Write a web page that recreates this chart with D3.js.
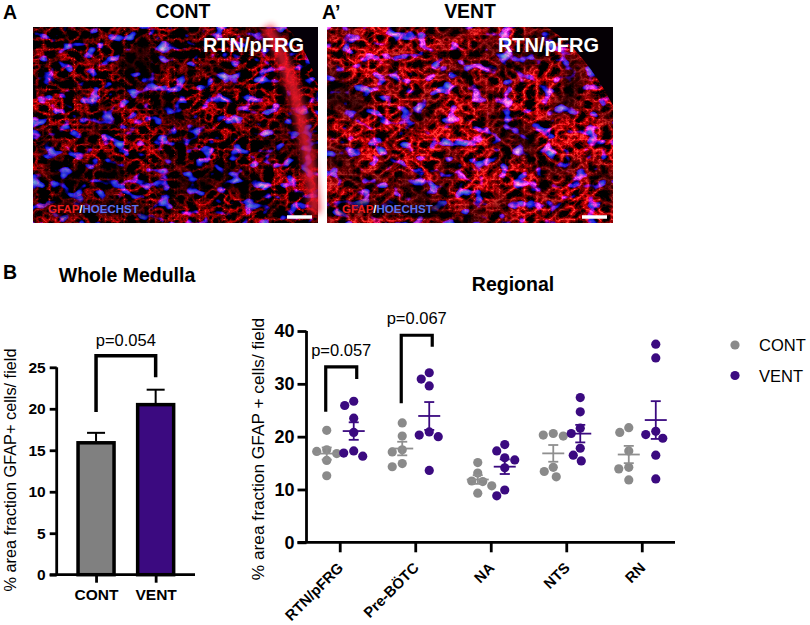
<!DOCTYPE html>
<html><head><meta charset="utf-8">
<script src="https://cdn.jsdelivr.net/npm/d3@7"></script>
<style>
html,body{margin:0;padding:0;background:#fff;}
svg{display:block;font-family:"Liberation Sans",Arial,sans-serif;}
</style></head>
<body><svg id="fig" width="810" height="625"></svg>
<script>
// ---------------- data ----------------
const wholeGroups = ["CONT", "VENT"];
const wholeMeans = [15.9, 20.5];
const wholeSEM = [1.2, 1.8];
const wholeTicks = [0, 5, 10, 15, 20, 25];
const wholeP = "p=0.054";
const wholeBracket = [26.4, 19.6, 23.8]; // top, left leg end, right leg end (data units)

const regions = ["RTN/pFRG", "Pre-BÖTC", "NA", "NTS", "RN"];
const contValues = [
  [21.2, 17.5, 17.2, 16.8, 15.5, 12.6],
  [22.6, 20.1, 17.5, 17.1, 14.9, 14.3],
  [15.1, 13.1, 11.6, 11.5, 10.7, 9.3],
  [20.6, 20.3, 20.1, 14.2, 13.4, 12.4],
  [21.7, 20.8, 17.3, 14.2, 13.9, 11.8]
];
const ventValues = [
  [26.7, 25.9, 23.5, 20.8, 17.3, 16.9, 16.3],
  [32.1, 30.9, 29.6, 20.9, 20.3, 20.0, 13.6],
  [18.5, 17.3, 16.0, 15.6, 14.1, 9.9, 8.8],
  [27.4, 24.7, 21.6, 20.6, 17.8, 16.5, 15.4],
  [37.5, 34.9, 21.0, 20.4, 19.7, 16.5, 12.0]
];
const regionalTicks = [0, 10, 20, 30, 40];
const regionalP = [
  {region: "RTN/pFRG", label: "p=0.057", top: 33.2, left: 24.7, right: 30.9},
  {region: "Pre-BÖTC", label: "p=0.067", top: 39.2, left: 26.3, right: 37.0}
];
const legendItems = ["CONT", "VENT"];

// ---------------- style ----------------
const GRAY = "#8a8a8a", BAR_GRAY = "#808080", PURPLE = "#3b0a80";
const FONT = "Liberation Sans, Arial, sans-serif";
const svg = d3.select("#fig");
const defs = svg.append("defs");
defs.append("filter").attr("id", "soft").attr("x", "-20%").attr("y", "-20%").attr("width", "140%").attr("height", "140%")
  .append("feGaussianBlur").attr("stdDeviation", 3);
defs.append("filter").attr("id", "shade").attr("x", "-30%").attr("y", "-60%").attr("width", "160%").attr("height", "220%")
  .append("feGaussianBlur").attr("stdDeviation", 4);

// ---------------- panel A: micrograph approximations ----------------
function micrograph(x, y, w, h, id, seedR, seedB, redGain, redBase) {
  const f = defs.append("filter").attr("id", id)
    .attr("filterUnits", "userSpaceOnUse")
    .attr("x", x).attr("y", y).attr("width", w).attr("height", h)
    .attr("color-interpolation-filters", "sRGB");
  // fibre mesh
  f.append("feTurbulence").attr("type", "turbulence").attr("baseFrequency", "0.08 0.1")
    .attr("numOctaves", 5).attr("seed", seedR).attr("result", "tr");
  f.append("feColorMatrix").attr("in", "tr").attr("type", "matrix")
    .attr("values", `-${redGain} 0 0 0 ${redBase}  -${redGain*0.7} 0 0 0 ${redBase*0.7-0.5}  -${redGain*0.5} 0 0 0 ${redBase*0.5-0.32}  0 0 0 0 1`)
    .attr("result", "mesh");
  // patchy brightness
  f.append("feTurbulence").attr("type", "fractalNoise").attr("baseFrequency", "0.025")
    .attr("numOctaves", 2).attr("seed", seedR + 5).attr("result", "tp");
  f.append("feColorMatrix").attr("in", "tp").attr("type", "matrix")
    .attr("values", "2.6 0 0 0 -0.6  2.6 0 0 0 -0.6  2.6 0 0 0 -0.6  0 0 0 0 1")
    .attr("result", "patch");
  f.append("feComposite").attr("in", "mesh").attr("in2", "patch")
    .attr("operator", "arithmetic").attr("k1", 0.85).attr("k2", 0.3).attr("result", "red");
  // nuclei
  f.append("feTurbulence").attr("type", "fractalNoise").attr("baseFrequency", "0.07 0.095")
    .attr("numOctaves", 2).attr("seed", seedB).attr("result", "tb");
  f.append("feColorMatrix").attr("in", "tb").attr("type", "matrix")
    .attr("values", "2 0 0 0 -1.25  3 0 0 0 -1.9  12 0 0 0 -7.0  0 0 0 0 1")
    .attr("result", "blue");
  f.append("feComposite").attr("in", "red").attr("in2", "blue")
    .attr("operator", "arithmetic").attr("k2", 1).attr("k3", 0.85);
  const g = svg.append("g");
  g.append("rect").attr("x", x).attr("y", y).attr("width", w).attr("height", h)
    .attr("fill", "#200").attr("filter", `url(#${id})`);
  return g;
}

const imgA = {x: 33, y: 27, w: 285, h: 196};
const imgB = {x: 327, y: 27, w: 286, h: 196};
const gA = micrograph(imgA.x, imgA.y, imgA.w, imgA.h, "microA", 4, 11, 2.5, 1.0);
const gB = micrograph(imgB.x, imgB.y, imgB.w, imgB.h, "microB", 9, 23, 2.3, 1.2);

// tissue edge (CONT) and dark corner (VENT)
gA.append("path")
  .attr("d", `M${imgA.x+imgA.w*0.82},${imgA.y} Q${imgA.x+imgA.w*0.95},${imgA.y+imgA.h*0.3} ${imgA.x+imgA.w*0.99},${imgA.y+imgA.h*0.95}`)
  .attr("fill", "none").attr("stroke", "#ff1a30").attr("stroke-width", 12).attr("opacity", 0.75)
  .attr("filter", "url(#soft)");
gA.append("path")
  .attr("d", `M${imgA.x+imgA.w*0.89},${imgA.y} L${imgA.x+imgA.w},${imgA.y} L${imgA.x+imgA.w},${imgA.y+imgA.h*0.3} Q${imgA.x+imgA.w*0.96},${imgA.y+imgA.h*0.1} ${imgA.x+imgA.w*0.89},${imgA.y} Z`)
  .attr("fill", "#050008");
gB.append("path")
  .attr("d", `M${imgB.x+imgB.w*0.77},${imgB.y} L${imgB.x+imgB.w},${imgB.y} L${imgB.x+imgB.w},${imgB.y+imgB.h*0.4} Q${imgB.x+imgB.w*0.9},${imgB.y+imgB.h*0.12} ${imgB.x+imgB.w*0.77},${imgB.y} Z`)
  .attr("fill", "#050005");

function imgLabels(img) {
  svg.append("text").attr("x", img.x + img.w - 14).attr("y", img.y + 25)
    .attr("text-anchor", "end").attr("font-size", 20).attr("font-weight", "bold")
    .attr("fill", "#fff").text("RTN/pFRG");
  svg.append("rect").attr("x", img.x + 12).attr("y", img.y + 175).attr("width", 104).attr("height", 14)
    .attr("fill", "#000").attr("opacity", 0.7).attr("filter", "url(#shade)");
  const t = svg.append("text").attr("x", img.x + 15).attr("y", img.y + 186)
    .attr("font-size", 11.5).attr("font-weight", "bold");
  t.append("tspan").attr("fill", "#ee1c1c").text("GFAP");
  t.append("tspan").attr("fill", "#fff").text("/");
  t.append("tspan").attr("fill", "#5a72f0").text("HOECHST");
  svg.append("line").attr("x1", img.x + img.w - 31).attr("x2", img.x + img.w - 6)
    .attr("y1", img.y + 190).attr("y2", img.y + 190)
    .attr("stroke", "#fff").attr("stroke-width", 3.5);
}
imgLabels(imgA); imgLabels(imgB);

svg.append("text").attr("x", 3).attr("y", 19).attr("font-size", 19.5).attr("font-weight", "bold").text("A");
svg.append("text").attr("x", 183).attr("y", 18).attr("text-anchor", "middle").attr("font-size", 19.4).attr("font-weight", "bold").text("CONT");
svg.append("text").attr("x", 322).attr("y", 19).attr("font-size", 19.5).attr("font-weight", "bold").text("A’");
svg.append("text").attr("x", 470).attr("y", 18).attr("text-anchor", "middle").attr("font-size", 19.4).attr("font-weight", "bold").text("VENT");

// ---------------- panel B left: Whole Medulla ----------------
svg.append("text").attr("x", 3).attr("y", 279).attr("font-size", 19.5).attr("font-weight", "bold").text("B");
svg.append("text").attr("x", 127).attr("y", 282).attr("text-anchor", "middle").attr("font-size", 19.5).attr("font-weight", "bold").text("Whole Medulla");

const yW = d3.scaleLinear().domain([0, 25]).range([574.7, 367.3]);
const xW = d3.scalePoint().domain(wholeGroups).range([56.7, 195]).padding(0.66);
const gW = svg.append("g");
const barW = 36;

gW.selectAll("rect.bar").data(wholeGroups).join("rect").attr("class", "bar")
  .attr("x", d => xW(d) - barW / 2).attr("width", barW)
  .attr("y", (d, i) => yW(wholeMeans[i])).attr("height", (d, i) => yW(0) - yW(wholeMeans[i]))
  .attr("fill", (d, i) => i === 0 ? BAR_GRAY : PURPLE)
  .attr("stroke", "#000").attr("stroke-width", 3.5);
gW.selectAll("line.err").data(wholeGroups).join("line").attr("class", "err")
  .attr("x1", d => xW(d)).attr("x2", d => xW(d))
  .attr("y1", (d, i) => yW(wholeMeans[i]) - 1.5).attr("y2", (d, i) => yW(wholeMeans[i] + wholeSEM[i]))
  .attr("stroke", "#000").attr("stroke-width", 2);
gW.selectAll("line.cap").data(wholeGroups).join("line").attr("class", "cap")
  .attr("x1", d => xW(d) - 9).attr("x2", d => xW(d) + 9)
  .attr("y1", (d, i) => yW(wholeMeans[i] + wholeSEM[i])).attr("y2", (d, i) => yW(wholeMeans[i] + wholeSEM[i]))
  .attr("stroke", "#000").attr("stroke-width", 2);

const axW = gW.append("g").attr("transform", `translate(56.7,0)`)
  .call(d3.axisLeft(yW).tickValues(wholeTicks).tickSize(7).tickPadding(4));
axW.select(".domain").attr("stroke-width", 2.8).attr("d", `M0,${yW(25)}V${yW(0)}`);
axW.selectAll(".tick line").attr("stroke-width", 2.8);
axW.selectAll(".tick text").attr("font-size", 15.5).attr("font-weight", "bold").attr("fill", "#000")
  .attr("font-family", FONT);
gW.append("line").attr("x1", 49.7).attr("x2", 195).attr("y1", yW(0)).attr("y2", yW(0))
  .attr("stroke", "#000").attr("stroke-width", 2.8);
const axWx = gW.append("g").attr("transform", `translate(0,${yW(0)})`)
  .call(d3.axisBottom(xW).tickSize(8).tickPadding(6));
axWx.select(".domain").remove();
axWx.selectAll(".tick line").attr("stroke-width", 2.8);
axWx.selectAll(".tick text").attr("font-size", 15.5).attr("font-weight", "bold").attr("fill", "#000")
  .attr("font-family", FONT);

gW.append("path")
  .attr("d", `M${xW("CONT")},${yW(wholeBracket[1])}V${yW(wholeBracket[0])}H${xW("VENT")}V${yW(wholeBracket[2])}`)
  .attr("fill", "none").attr("stroke", "#000").attr("stroke-width", 3.5);
gW.append("text").attr("x", (xW("CONT") + xW("VENT")) / 2).attr("y", yW(wholeBracket[0]) - 10)
  .attr("text-anchor", "middle").attr("font-size", 16.5).text(wholeP);

svg.append("text").attr("transform", `translate(15.5,470) rotate(-90)`)
  .attr("text-anchor", "middle").attr("font-size", 16.3).text("% area fraction GFAP+ cells/ field");

// ---------------- panel B right: Regional ----------------
svg.append("text").attr("x", 513).attr("y", 291).attr("text-anchor", "middle").attr("font-size", 19.5).attr("font-weight", "bold").text("Regional");

const yR = d3.scaleLinear().domain([0, 40]).range([542.3, 331]);
const xR = d3.scalePoint().domain(regions).range([306.5, 675]).padding(0.44);
const gR = svg.append("g");

const axR = gR.append("g").attr("transform", `translate(306.5,0)`)
  .call(d3.axisLeft(yR).tickValues(regionalTicks).tickSize(9).tickPadding(3));
axR.select(".domain").attr("stroke-width", 2.8).attr("d", `M0,${yR(40)}V${yR(0)}`);
axR.selectAll(".tick line").attr("stroke-width", 2.8);
axR.selectAll(".tick text").attr("font-size", 18).attr("font-weight", "bold").attr("fill", "#000")
  .attr("font-family", FONT);
gR.append("line").attr("x1", 297.5).attr("x2", 675).attr("y1", yR(0)).attr("y2", yR(0))
  .attr("stroke", "#000").attr("stroke-width", 2.8);
const axRx = gR.append("g").attr("transform", `translate(0,${yR(0)})`)
  .call(d3.axisBottom(xR).tickSize(10).tickPadding(4));
axRx.select(".domain").remove();
axRx.selectAll(".tick line").attr("stroke-width", 2.8);
axRx.selectAll(".tick text").attr("font-size", 14.8).attr("font-weight", "bold").attr("fill", "#000")
  .attr("font-family", FONT)
  .attr("text-anchor", "end").attr("dy", null).attr("x", 0).attr("y", 0)
  .attr("transform", "translate(4,26.5) rotate(-45)");

// deterministic non-overlapping horizontal arrangement of dots
const R = 4.6;
function arrange(vals, cx) {
  const placed = [];
  const order = vals.map((v, i) => i).sort((a, b) => vals[b] - vals[a]);
  const out = new Array(vals.length);
  order.forEach(i => {
    const py = yR(vals[i]);
    let best = 0;
    for (let k = 0; k < 60; k++) {
      const off = (k % 2 === 1 ? -1 : 1) * Math.ceil(k / 2);
      const ok = placed.every(p => Math.hypot(p[0] - (cx + off), p[1] - py) >= 2 * R + 0.6);
      if (ok) { best = off; break; }
    }
    placed.push([cx + best, py]);
    out[i] = {x: cx + best, y: py};
  });
  return out;
}

const groupsR = [];
regions.forEach((r, i) => {
  groupsR.push({region: r, vals: contValues[i], cx: xR(r) - 13, color: GRAY, line: "#8f8f8f"});
  groupsR.push({region: r, vals: ventValues[i], cx: xR(r) + 14, color: PURPLE, line: PURPLE});
});
groupsR.forEach(g => {
  const pts = arrange(g.vals, g.cx);
  gR.append("g").selectAll("circle").data(pts).join("circle")
    .attr("cx", d => d.x).attr("cy", d => d.y).attr("r", R).attr("fill", g.color);
  const m = d3.mean(g.vals);
  const sem = d3.deviation(g.vals) / Math.sqrt(g.vals.length);
  const eg = gR.append("g").attr("stroke", g.line).attr("stroke-width", 1.8).attr("fill", "none");
  eg.append("line").attr("x1", g.cx - 11).attr("x2", g.cx + 11).attr("y1", yR(m)).attr("y2", yR(m));
  eg.append("line").attr("x1", g.cx).attr("x2", g.cx).attr("y1", yR(m + sem)).attr("y2", yR(m - sem));
  eg.append("line").attr("x1", g.cx - 5).attr("x2", g.cx + 5).attr("y1", yR(m + sem)).attr("y2", yR(m + sem));
  eg.append("line").attr("x1", g.cx - 5).attr("x2", g.cx + 5).attr("y1", yR(m - sem)).attr("y2", yR(m - sem));
});

regionalP.forEach(p => {
  const x1 = xR(p.region) - 14, x2 = xR(p.region) + 17;
  gR.append("path").attr("d", `M${x1},${yR(p.left)}V${yR(p.top)}H${x2}V${yR(p.right)}`)
    .attr("fill", "none").attr("stroke", "#000").attr("stroke-width", 3.2);
  gR.append("text").attr("x", (x1 + x2) / 2).attr("y", yR(p.top) - 11)
    .attr("text-anchor", "middle").attr("font-size", 16.5).text(p.label);
});

svg.append("text").attr("transform", `translate(264,449) rotate(-90)`)
  .attr("text-anchor", "middle").attr("font-size", 17.3).text("% area fraction GFAP + cells/ field");

const lg = svg.append("g");
legendItems.forEach((d, i) => {
  lg.append("circle").attr("cx", 735).attr("cy", 345 + i * 30.5).attr("r", 4.6).attr("fill", i === 0 ? GRAY : PURPLE);
  lg.append("text").attr("x", 759).attr("y", 345 + i * 30.5 + 6).attr("font-size", 16.5).text(d);
});
</script></body></html>
